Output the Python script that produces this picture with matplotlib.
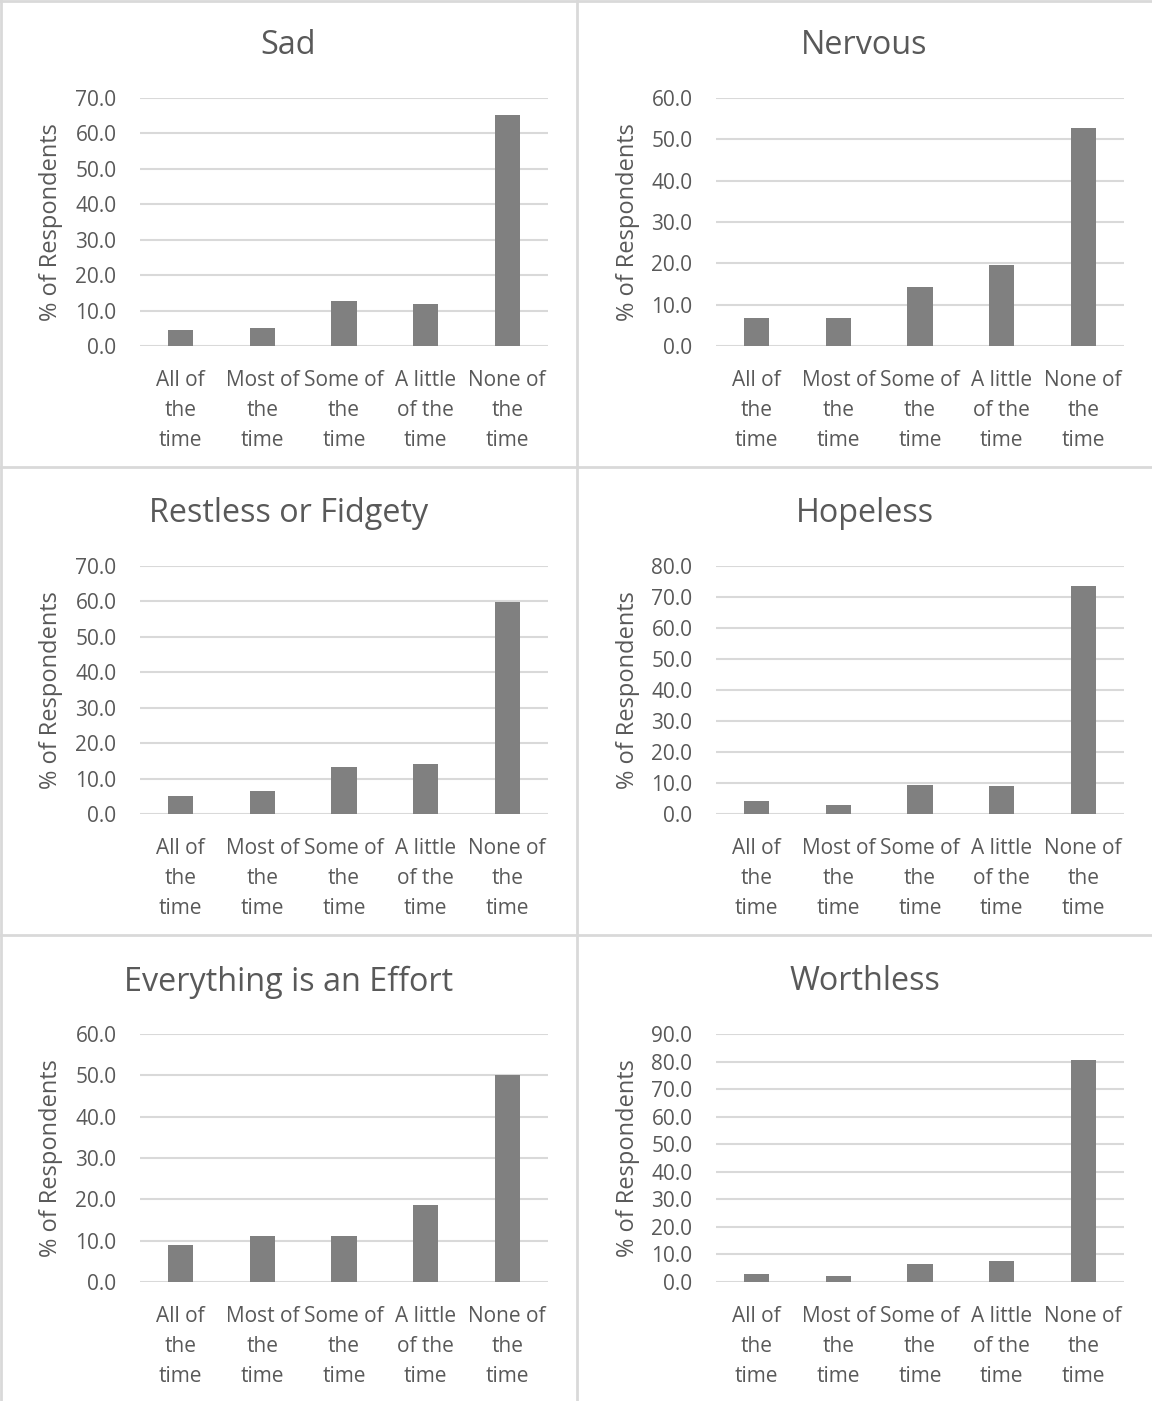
import matplotlib
matplotlib.use("Agg")
import matplotlib.pyplot as plt
from matplotlib.lines import Line2D

plt.rcParams['font.family'] = ['Open Sans', 'DejaVu Sans']

categories = ["All of\nthe\ntime", "Most of\nthe\ntime", "Some of\nthe\ntime",
              "A little\nof the\ntime", "None of\nthe\ntime"]

titles = ["Sad", "Nervous", "Restless or Fidgety", "Hopeless",
          "Everything is an Effort", "Worthless"]

sad = [4.5, 5.2, 12.8, 11.9, 65.2]
nervous = [6.7, 6.7, 14.2, 19.5, 52.7]
restless = [5.1, 6.6, 13.4, 14.2, 59.9]
hopeless = [4.2, 2.8, 9.5, 8.9, 73.6]
effort = [8.9, 11.2, 11.2, 18.6, 50.0]
worthless = [2.9, 2.2, 6.7, 7.5, 80.5]

y_max = [70, 60, 70, 80, 60, 90]
y_step = [10, 10, 10, 10, 10, 10]

series = [sad, nervous, restless, hopeless, effort, worthless]

W, H = 1152, 1401
fig = plt.figure(figsize=(W / 100, H / 100), dpi=100)

text_col = "#595959"
grid_col = "#d9d9d9"
bar_col = "#808080"

col_left = [140, 716]
col_right = [548, 1124]
row_top = [98, 566, 1034]
row_bot = [346, 814, 1282]
panel_x = [(0, 577), (577, 1152)]
title_y = [46, 514, 982]

for i, (vals, title) in enumerate(zip(series, titles)):
    r, c = divmod(i, 2)
    l, rr = col_left[c], col_right[c]
    t, b = row_top[r], row_bot[r]
    ax = fig.add_axes([l / W, 1 - b / H, (rr - l) / W, (b - t) / H])
    x = list(range(len(categories)))
    ax.bar(x, vals, width=0.31, color=bar_col, zorder=3)
    ax.set_xlim(-0.5, len(categories) - 0.5)
    ax.set_ylim(0, y_max[i])
    ticks = [k * y_step[i] for k in range(int(y_max[i] / y_step[i]) + 1)]
    ax.set_yticks(ticks)
    ax.set_yticklabels([f"{v:.1f}" for v in ticks])
    ax.set_xticks(x)
    ax.set_xticklabels(categories, linespacing=1.56)
    ax.yaxis.grid(True, color=grid_col, linewidth=1.5, zorder=0)
    ax.set_axisbelow(True)
    for s in ax.spines.values():
        s.set_visible(False)
    ax.tick_params(axis='both', length=0, labelsize=15, colors=text_col)
    ax.tick_params(axis='y', pad=17)
    ax.tick_params(axis='x', pad=17)
    # title centered on panel
    px0, px1 = panel_x[c]
    fig.text((px0 + px1) / 2 / W, 1 - title_y[r] / H, title,
             ha='center', va='center', fontsize=23.3, color=text_col)
    # y label
    fig.text((51 + 577 * c) / W, 1 - (t + b) / 2 / H, "% of Respondents",
             rotation=90, ha='center', va='center', fontsize=17, color=text_col)

# panel borders
border = dict(color=grid_col, linewidth=2, transform=fig.transFigure)
fig.add_artist(Line2D([1 / W, 1 / W], [0, 1], **border))
fig.add_artist(Line2D([0, 1], [1 - 1 / H, 1 - 1 / H], **border))
fig.add_artist(Line2D([577 / W, 577 / W], [0, 1], **border))
fig.add_artist(Line2D([0, 1], [1 - 467 / H, 1 - 467 / H], **border))
fig.add_artist(Line2D([0, 1], [1 - 935 / H, 1 - 935 / H], **border))

fig.savefig("out.png", dpi=100, facecolor="white")
